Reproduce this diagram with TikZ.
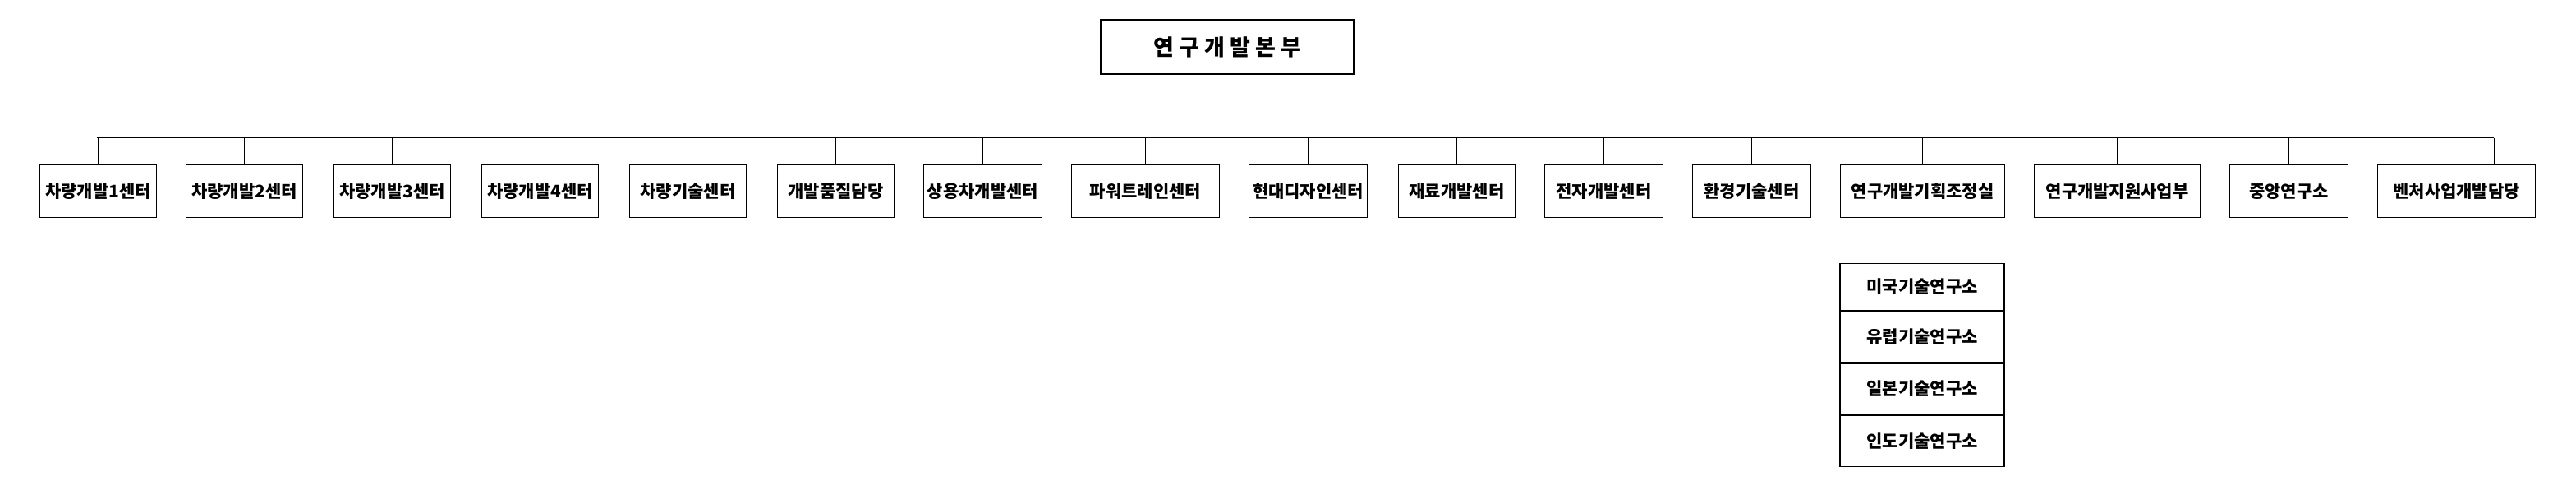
\documentclass[tikz,border=0pt]{standalone}
\usepackage{fontspec}
\newfontfamily\kr{Noto Sans CJK KR}
\begin{document}
\begin{tikzpicture}[x=1pt,y=-1pt,
  ub/.style={draw,line width=0.6pt,minimum height=32pt,inner sep=0pt,font=\kr\bfseries\fontsize{10.5}{11}\selectfont,anchor=north west},
  sb/.style={draw,line width=0.6pt,inner sep=0pt,font=\kr\bfseries\fontsize{10.5}{11}\selectfont,minimum width=100pt},
  ln/.style={line width=0.5pt}]
\useasboundingbox (0,0) rectangle (1568,306.5);
\node[draw,line width=1.4pt,minimum width=154pt,minimum height=33pt,inner sep=0pt,font=\kr\bfseries\fontsize{13.5}{14}\selectfont] (top) at (747,28.5) {연 구 개 발 본 부};
\coordinate (t) at (743,45);
\coordinate (tb) at (743,84);
\foreach \n/\l/\w/\txt in {
 a/24/71/차량개발1센터, b/113/71/차량개발2센터, c/203/71/차량개발3센터, d/293/71/차량개발4센터,
 e/383/71/차량기술센터, f/473/71/개발품질담당, g/562/72/상용차개발센터, h/652/90/파워트레인센터,
 i/760/72/현대디자인센터, j/851/71/재료개발센터, k/940/72/전자개발센터, l/1030/72/환경기술센터,
 m/1120/100/연구개발기획조정실, n/1238/101/연구개발지원사업부, o/1357/72/중앙연구소, p/1447/96/벤처사업개발담당}{
  \node[ub,minimum width=\w pt] (\n) at (\l,100) {\txt};
}
\draw[ln] (t) -- (tb);
\coordinate (L) at (59,84);
\coordinate (R) at (1518,84);
\draw[ln] (L) -- (R);
\foreach \n in {a,b,c,d,e,f,g,h,i,j,k,l,m,n,o}{
  \draw[ln] (\n.north |- L) -- (\n.north);
}
\coordinate (pp) at (1518,100);
\draw[ln] (R) -- (pp);
\node[sb,minimum height=28.5pt,anchor=north] (s1) at (1170,160) {미국기술연구소};
\node[sb,minimum height=31pt,anchor=north] (s2) at (s1.south) {유럽기술연구소};
\node[sb,minimum height=31pt,anchor=north] (s3) at (s2.south) {일본기술연구소};
\node[sb,minimum height=31pt,anchor=north] (s4) at (s3.south) {인도기술연구소};
\end{tikzpicture}
\end{document}
